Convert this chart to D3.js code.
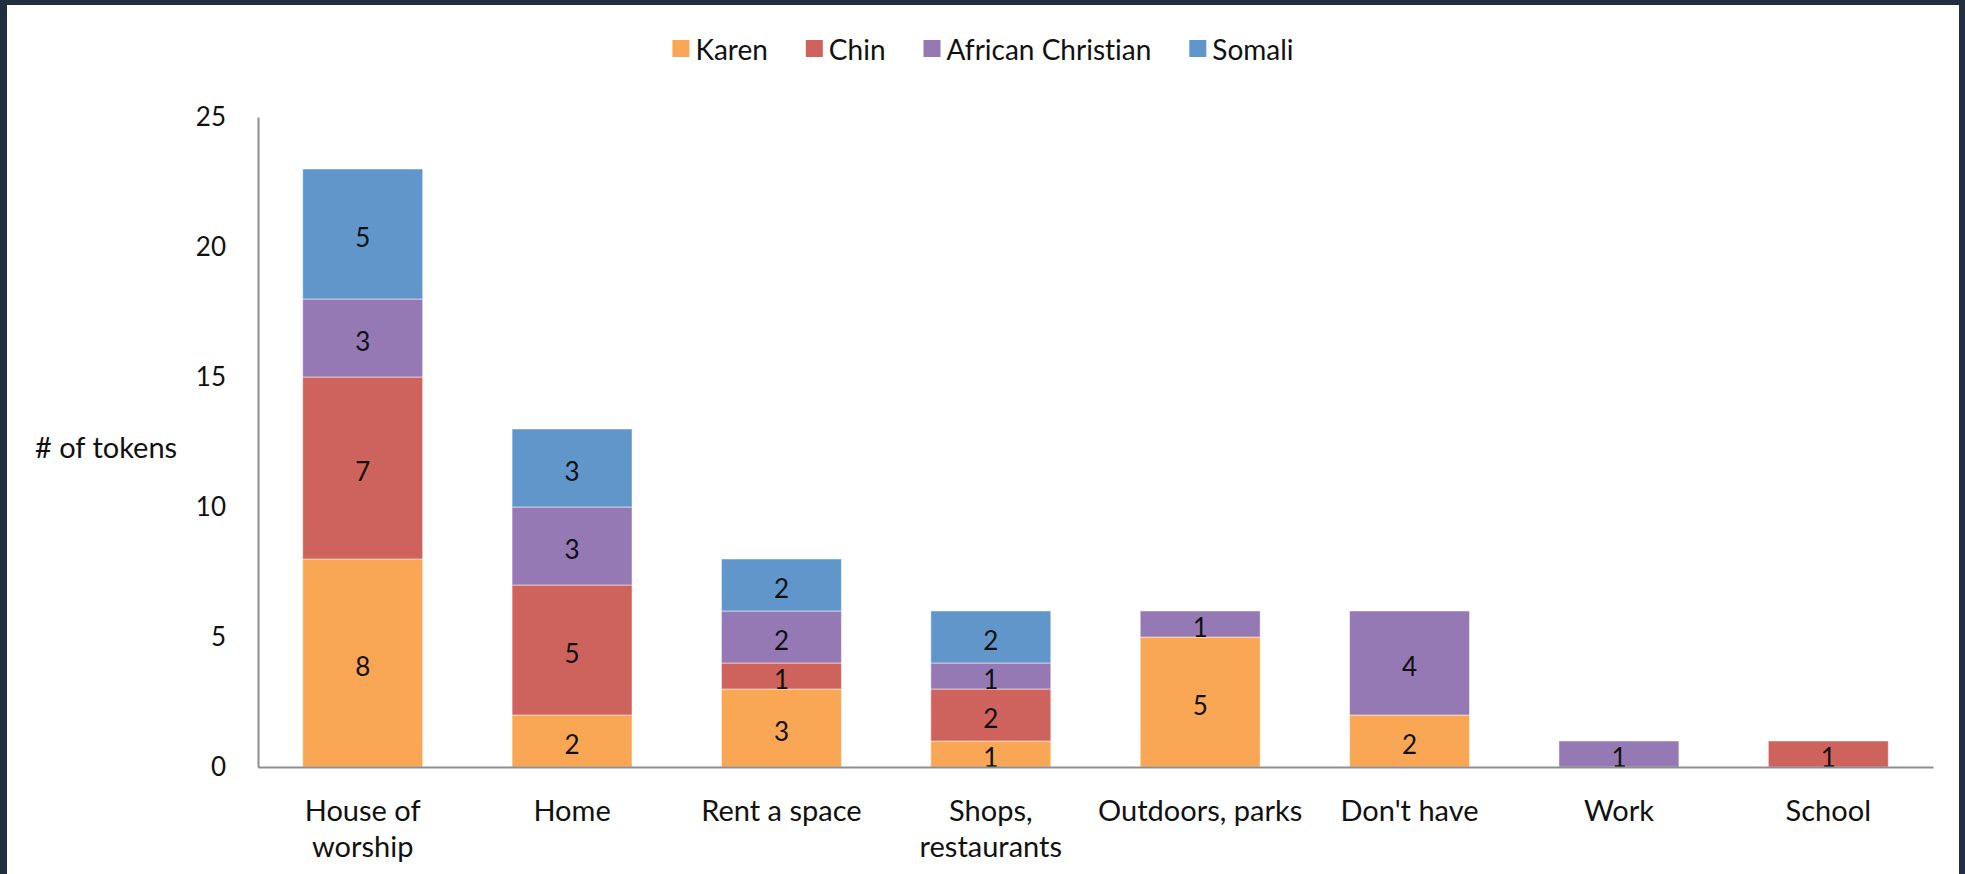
<!DOCTYPE html>
<meta charset="utf-8">
<style>
  body { margin: 0; background: #212f3e; }
  text { font-family: Lato, "Open Sans", sans-serif; fill: #111; font-variant-ligatures: none; }
  .axis path { stroke: #8e8e8e; stroke-width: 2; }
  .axis line { display: none; }
</style>
<svg width="1965" height="874"></svg>
<script src="https://cdn.jsdelivr.net/npm/d3@7"></script>
<script>

var categories = ["House of worship", "Home", "Rent a space", "Shops, restaurants",
                  "Outdoors, parks", "Don't have", "Work", "School"];
var tickLines = [["House of", "worship"], ["Home"], ["Rent a space"], ["Shops,", "restaurants"],
                 ["Outdoors, parks"], ["Don't have"], ["Work"], ["School"]];
var seriesNames = ["Karen", "Chin", "African Christian", "Somali"];
var karen   = [8, 2, 3, 1, 5, 2, 0, 0];
var chin    = [7, 5, 1, 2, 0, 0, 0, 1];
var african = [3, 3, 2, 1, 1, 4, 1, 0];
var somali  = [5, 3, 2, 2, 0, 0, 0, 0];
var yTicks = [0, 5, 10, 15, 20, 25];
var colors = ["#f9a655", "#ce625d", "#9479b4", "#6096ca"];

var svg = d3.select("svg");

// white panel inside the dark frame
svg.append("rect").attr("x", 7).attr("y", 5).attr("width", 1952).attr("height", 869).attr("fill", "#fff");

var rows = categories.map(function(c, i) {
  return {cat: c, "Karen": karen[i], "Chin": chin[i], "African Christian": african[i], "Somali": somali[i]};
});
var stacked = d3.stack().keys(seriesNames)(rows);

var x = d3.scaleBand().domain(categories).range([258, 1933]).paddingInner(0.427).paddingOuter(0.2135);
var y = d3.scaleLinear().domain([0, 25]).range([767, 117]);

var color = d3.scaleOrdinal().domain(seriesNames).range(colors);

// bars
var layer = svg.append("g").selectAll("g")
  .data(stacked)
  .enter().append("g")
    .attr("fill", function(d) { return color(d.key); });

layer.selectAll("rect")
  .data(function(d) { return d; })
  .enter().append("rect")
    .filter(function(d) { return d[1] - d[0] > 0; })
    .attr("x", function(d) { return x(d.data.cat); })
    .attr("y", function(d) { return y(d[1]); })
    .attr("width", x.bandwidth())
    .attr("height", function(d) { return y(d[0]) - y(d[1]); })
    .attr("stroke", "rgba(255,255,255,0.5)")
    .attr("stroke-width", 1);

// data labels
layer.selectAll("text")
  .data(function(d) { return d; })
  .enter().append("text")
    .filter(function(d) { return d[1] - d[0] > 0; })
    .attr("x", function(d) { return x(d.data.cat) + x.bandwidth() / 2; })
    .attr("y", function(d) { return (y(d[0]) + y(d[1])) / 2 + 3; })
    .attr("text-anchor", "middle")
    .attr("dominant-baseline", "central")
    .style("font-size", "26px")
    .text(function(d) { return d[1] - d[0]; });

// y axis
var yAxis = svg.append("g").attr("class", "axis")
  .attr("transform", "translate(258,0)")
  .call(d3.axisLeft(y).tickValues(yTicks).tickSize(0).tickPadding(32).tickSizeOuter(0));
yAxis.selectAll("text").style("font-size", "26px").attr("fill", "#111");

// x axis
var xAxis = svg.append("g").attr("class", "axis")
  .attr("transform", "translate(0,767)")
  .call(d3.axisBottom(x).tickSize(0).tickSizeOuter(0).tickFormat(""));

svg.append("g").selectAll("text")
  .data(categories)
  .enter().append("text")
    .attr("x", function(d) { return x(d) + x.bandwidth() / 2; })
    .attr("y", 821)
    .attr("text-anchor", "middle")
    .style("font-size", "29px")
    .each(function(d, i) {
      var t = d3.select(this);
      tickLines[i].forEach(function(line, j) {
        t.append("tspan").attr("x", x(d) + x.bandwidth() / 2).attr("dy", j ? 36 : 0).text(line);
      });
    });

// y title
svg.append("text")
  .attr("x", 35).attr("y", 446)
  .attr("dominant-baseline", "central")
  .style("font-size", "29px")
  .text("# of tokens");

// legend
var legend = svg.append("g");
var lx = 0;
seriesNames.forEach(function(name) {
  var g = legend.append("g").attr("transform", "translate(" + lx + ",0)");
  g.append("rect").attr("x", 0).attr("y", -9).attr("width", 17).attr("height", 17).attr("fill", color(name));
  var t = g.append("text").attr("x", 23).attr("y", 0)
    .attr("dominant-baseline", "central")
    .style("font-size", "28px").text(name);
  lx += 23 + t.node().getComputedTextLength() + 38;
});
var legendWidth = lx - 38;
legend.attr("transform", "translate(" + (983 - legendWidth / 2) + ",49)");

</script>
